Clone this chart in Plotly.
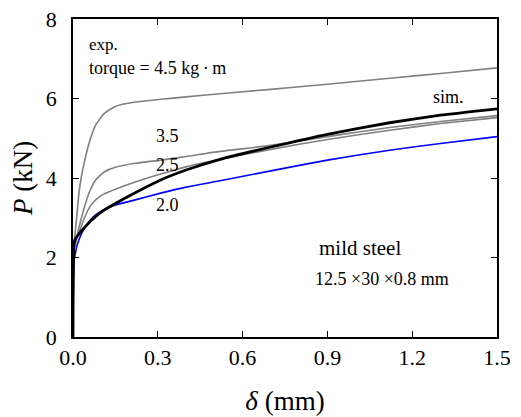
import plotly.graph_objects as go

delta = [0, 0.003, 0.007, 0.013, 0.02, 0.03, 0.045, 0.06, 0.08, 0.11, 0.15,
         0.22, 0.31, 0.4, 0.52, 0.7, 0.9, 1.12, 1.3, 1.5]

p_exp_45 = [0, 2.3, 2.6, 3.0, 3.55, 4.05, 4.55, 4.95, 5.33, 5.62, 5.8,
            5.91, 5.98, 6.04, 6.12, 6.23, 6.36, 6.51, 6.63, 6.77]
p_exp_35 = [0, 2.2, 2.35, 2.5, 2.72, 3.0, 3.38, 3.68, 3.95, 4.15, 4.27,
            4.37, 4.45, 4.54, 4.67, 4.82, 5.04, 5.27, 5.42, 5.57]
p_exp_25 = [0, 2.2, 2.3, 2.45, 2.6, 2.8, 3.07, 3.28, 3.45, 3.6, 3.72,
            3.9, 4.1, 4.28, 4.47, 4.72, 4.97, 5.2, 5.37, 5.52]
p_exp_20 = [0, 1.9, 2.05, 2.27, 2.42, 2.6, 2.78, 2.93, 3.07, 3.2, 3.32,
            3.45, 3.62, 3.77, 3.93, 4.18, 4.45, 4.7, 4.87, 5.04]
p_sim = [0, 2.3, 2.44, 2.52, 2.58, 2.67, 2.79, 2.9, 3.03, 3.19, 3.36,
         3.63, 3.95, 4.2, 4.47, 4.78, 5.1, 5.39, 5.58, 5.74]

x_ticks = [0.0, 0.3, 0.6, 0.9, 1.2, 1.5]
y_ticks = [0, 2, 4, 6, 8]

GRAY = "#808080"
FONT = "Liberation Serif"

fig = go.Figure()
for ys, col, w in [(p_exp_45, GRAY, 1.6), (p_exp_35, GRAY, 1.6), (p_exp_25, GRAY, 1.6),
                   (p_exp_20, "#0000ff", 1.6), (p_sim, "#000000", 2.8)]:
    fig.add_trace(go.Scatter(x=delta, y=ys, mode="lines",
                             line=dict(color=col, width=w, shape="spline", smoothing=0.5),
                             showlegend=False, hoverinfo="skip"))

annots = [
    ("exp.", 0.0495, 7.37, "left", 17),
    ("torque = 4.5 kg\u2009\u00b7\u2009m", 0.0495, 6.77, "left", 18),
    ("3.5", 0.333, 5.06, "center", 18),
    ("2.5", 0.333, 4.33, "center", 18),
    ("2.0", 0.333, 3.33, "center", 18),
    ("sim.", 1.327, 6.04, "center", 18),
    ("mild steel", 0.863, 2.24, "left", 21),
    ("12.5 \u00d730 \u00d70.8 mm", 0.849, 1.46, "left", 18),
]
for t, x, y, anc, fs in annots:
    fig.add_annotation(x=x, y=y, text=t, showarrow=False, xanchor=anc, yanchor="middle",
                       font=dict(family=FONT, size=fs, color="black"))

axis_common = dict(showgrid=False, zeroline=False, showline=True, linecolor="black",
                   linewidth=1.5, mirror="ticks", ticks="inside", ticklen=6,
                   tickwidth=1, tickcolor="black", ticklabeloverflow="allow",
                   tickfont=dict(family=FONT, size=22, color="black"))

fig.update_xaxes(range=[0, 1.5], tickvals=x_ticks, tickformat=".1f",
                 title=dict(text="<i>\u03b4</i> (mm)", font=dict(family=FONT, size=27, color="black"),
                            standoff=22),
                 **axis_common)
fig.update_yaxes(range=[0, 8], tickvals=y_ticks, ticklabelstandoff=10,
                 title=dict(text="<i>P</i> (kN)", font=dict(family=FONT, size=27, color="black"),
                            standoff=20),
                 **axis_common)

# page body has an 8px margin, so the figure is 8px smaller on each axis
fig.update_layout(width=513, height=409, plot_bgcolor="white", paper_bgcolor="white",
                  margin=dict(l=65, r=24, t=11, b=80, autoexpand=False))

fig.write_html("out.html")
